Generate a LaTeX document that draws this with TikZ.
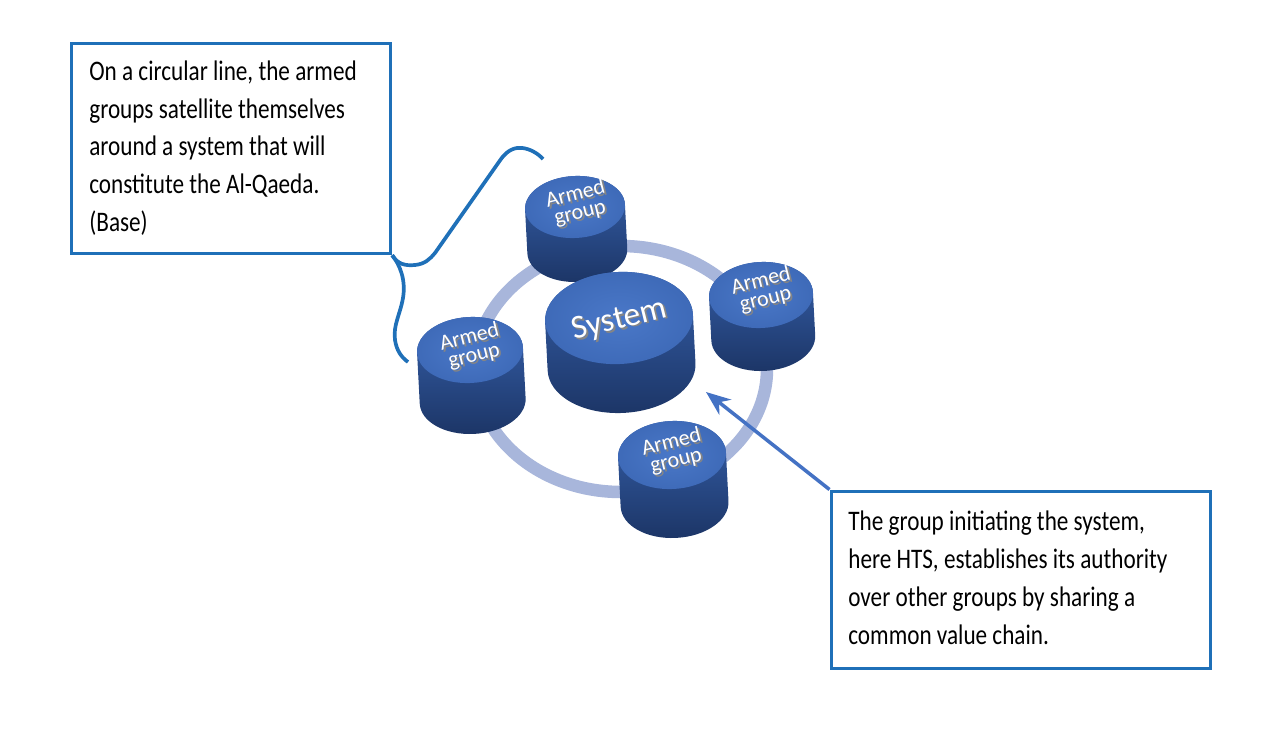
\documentclass[tikz,border=0pt]{standalone}
\usepackage{fontspec}
\usepackage{graphicx}
\setmainfont{Carlito}
\usetikzlibrary{arrows.meta}

\definecolor{boxblue}{HTML}{1F70B8}
\definecolor{arrowblue}{HTML}{4472C4}
\definecolor{ringblue}{HTML}{A8B6DB}
\definecolor{pucktop}{HTML}{3660AA}
\definecolor{puckbot}{HTML}{1C3566}
\definecolor{faceinner}{HTML}{4A78C8}
\definecolor{faceouter}{HTML}{3E6AB8}
\definecolor{shadowgrey}{HTML}{858585}

% one drum: centre of top face x, y, radii, height
\newcommand{\puck}[5]{%
  \begin{scope}[rotate around={3:(#1,#2)}]
    \shade[top color=pucktop, bottom color=puckbot]
      (#1-#3,#2) -- ++(0,-#5)
      arc[start angle=180, end angle=360, x radius=#3, y radius=#4]
      -- ++(0,#5)
      arc[start angle=0, end angle=180, x radius=#3, y radius=#4] -- cycle;
    \shade[inner color=faceinner, outer color=faceouter]
      (#1,#2) ellipse[x radius=#3, y radius=#4];
  \end{scope}}

% narrow, tall lines of text
\newcommand{\squash}[1]{\scalebox{0.82}[1]{\begin{tabular}{@{}l@{}}#1\end{tabular}}}
% white word with a grey relief under it
\newcommand{\embossed}[1]{\makebox[0pt][l]{\hspace{0.9pt}\raisebox{-1.3pt}{\textcolor{shadowgrey}{#1}}}#1}

\tikzset{
  notebox/.style={draw=boxblue, line width=2.1pt, fill=white, anchor=north west, inner sep=0pt},
  notetext/.style={anchor=west, inner sep=0pt, font=\fontsize{16.1pt}{21.5pt}\selectfont},
  pucktext/.style={align=center, rotate=14, inner sep=0pt, text=white,
    font=\fontsize{12.5pt}{10.8pt}\selectfont},
  systext/.style={rotate=14, inner sep=0pt, text=white, font=\fontsize{19pt}{20pt}\selectfont},
  ring/.style={draw=ringblue, line width=0.25cm},
  bracket/.style={draw=boxblue, line width=2.1pt},
  pointer/.style={draw=arrowblue, line width=2pt, -{Stealth[length=14pt,width=11pt]}}
}

\begin{document}
\begin{tikzpicture}
\useasboundingbox (0,0) rectangle (25.28,-14.72);

% circular line
\draw[ring] (12.42,-7.38) ellipse[x radius=2.92, y radius=2.46];

% drums, back to front
\puck{11.50}{-4.14}{1.00}{0.62}{0.88}
\puck{15.22}{-5.90}{1.04}{0.66}{0.86}
\puck{9.40}{-7.00}{1.06}{0.66}{1.02}
\puck{12.38}{-6.36}{1.48}{0.92}{0.98}
\puck{13.44}{-9.10}{1.08}{0.68}{0.98}

% labels on drums
\node[pucktext] (a1) at (11.56,-4.10) {\embossed{Armed}\\\embossed{group}};
\node[pucktext] (a2) at (15.27,-5.83) {\embossed{Armed}\\\embossed{group}};
\node[pucktext] (a3) at (9.44,-6.96) {\embossed{Armed}\\\embossed{group}};
\node[pucktext] (a4) at (13.48,-9.06) {\embossed{Armed}\\\embossed{group}};
\node[systext] (sys) at (12.40,-6.43) {\embossed{System}};

% notes
\node[notebox, minimum width=6.38cm, minimum height=4.20cm] (note1) at (1.39,-0.83) {};
\node[notetext] (text1) at ([xshift=0.39cm]note1.west)
  {\squash{On a circular line, the armed\\groups satellite themselves\\around a system that will\\constitute the Al-Qaeda.\\(Base)}};
\node[notebox, minimum width=7.58cm, minimum height=3.54cm] (note2) at (16.59,-9.79) {};
\node[notetext] (text2) at ([xshift=0.37cm]note2.west)
  {\squash{The group initiating the system,\\here HTS, establishes its authority\\over other groups by sharing a\\common value chain.}};

% brace from first note
\draw[bracket] (note1.south east)
  .. controls (7.95,-5.28) and (8.10,-5.32) .. (8.30,-5.30)
  .. controls (8.50,-5.28) and (8.60,-5.18) .. (8.70,-5.06)
  -- (10.02,-3.18)
  .. controls (10.15,-3.00) and (10.30,-2.94) .. (10.45,-2.96)
  .. controls (10.60,-2.98) and (10.75,-3.06) .. (10.86,-3.18);
\draw[bracket] (note1.south east)
  .. controls (8.00,-5.30) and (8.12,-5.60) .. (8.06,-5.96)
  .. controls (8.00,-6.30) and (7.86,-6.50) .. (7.90,-6.80)
  .. controls (7.93,-7.00) and (8.02,-7.14) .. (8.16,-7.24);

% arrow to the system
\coordinate (tgt) at (14.12,-7.84);
\draw[pointer] (note2.north west) -- (tgt);
\end{tikzpicture}
\end{document}
